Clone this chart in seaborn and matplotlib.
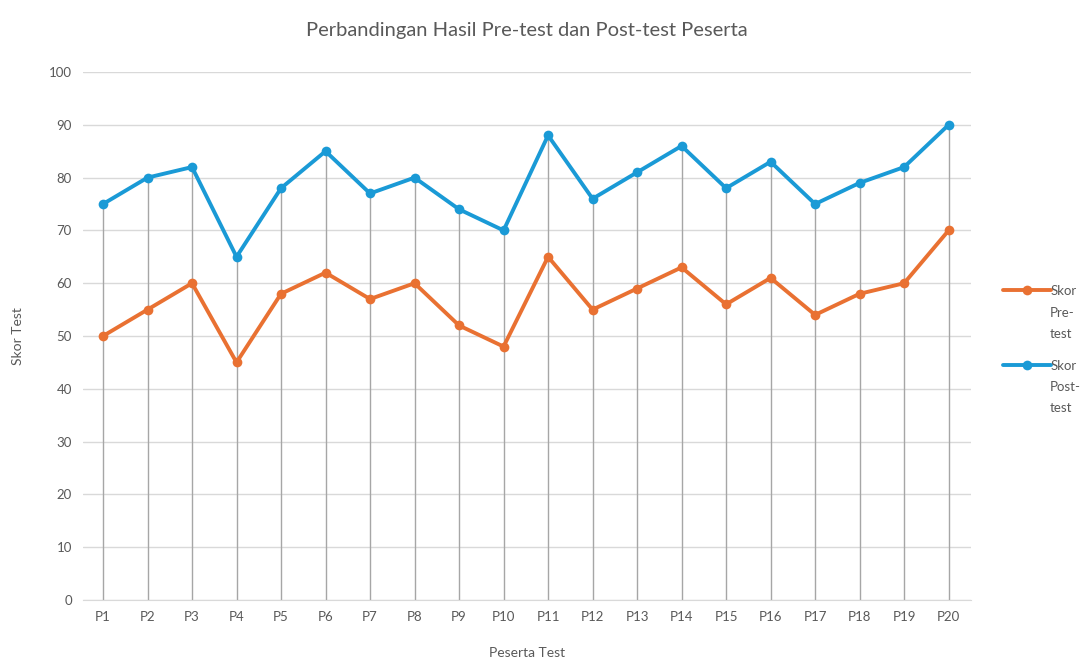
import pandas as pd
import matplotlib.pyplot as plt
import seaborn as sns

# Data
peserta = [f"P{i}" for i in range(1, 21)]
pre_test = [50, 55, 60, 45, 58, 62, 57, 60, 52, 48, 65, 55, 59, 63, 56, 61, 54, 58, 60, 70]
post_test = [75, 80, 82, 65, 78, 85, 77, 80, 74, 70, 88, 76, 81, 86, 78, 83, 75, 79, 82, 90]

series = ["Skor Pre-test", "Skor Post-test"]
# legend labels are wrapped like in the original
wrapped = [("Skor", "Pre-\ntest"), ("Skor", "Post-\ntest")]
colors = ["#E97132", "#1A9AD6"]
text_gray = "#595959"

df = pd.DataFrame({"Peserta": peserta, series[0]: pre_test, series[1]: post_test})
long_df = df.melt(id_vars="Peserta", var_name="Seri", value_name="Skor")

sns.set_style("white")
plt.rcParams['font.family'] = ['Lato', 'DejaVu Sans']

W, H = 1086, 659
fig = plt.figure(figsize=(W / 100, H / 100), dpi=100)
ax = fig.add_axes([0.0764, 0.0895, 0.8176, 0.8012])

# gridlines
ax.set_ylim(0, 100)
ax.set_yticks(range(0, 101, 10))
ax.yaxis.grid(True, color="#D9D9D9", linewidth=1)
ax.set_axisbelow(True)

# drop lines from the highest point down to the axis
xs = range(len(peserta))
ax.vlines(xs, 0, [max(a, b) for a, b in zip(pre_test, post_test)],
          color="#A6A6A6", linewidth=1, zorder=1)

sns.lineplot(data=long_df, x="Peserta", y="Skor", hue="Seri", palette=colors,
             marker="o", markersize=7, linewidth=2.8, markeredgewidth=0,
             sort=False, ax=ax, zorder=3)

ax.set_xlim(-0.45, 19.5)
for s in ["top", "right", "left"]:
    ax.spines[s].set_visible(False)
ax.spines["bottom"].set_color("#D9D9D9")
ax.tick_params(axis="both", length=0, labelsize=9.5, colors=text_gray, pad=8)

ax.set_title("Perbandingan Hasil Pre-test dan Post-test Peserta",
             fontsize=14.5, color=text_gray, pad=26)
ax.set_xlabel("Peserta Test", fontsize=10, color=text_gray, labelpad=17)
ax.set_ylabel("Skor Test", fontsize=10, color=text_gray, labelpad=18)

# legend: first word next to the line, rest of the label wrapped below
handles, _ = ax.get_legend_handles_labels()
ax.get_legend().remove()
leg = fig.legend(handles, [w[0] for w in wrapped], loc="upper left",
                 bbox_to_anchor=(1003 / W, 1 - 285 / H), frameon=False,
                 fontsize=9.5, handlelength=3.6, handletextpad=0.0,
                 borderpad=0, borderaxespad=0, labelspacing=4.75)
for t in leg.get_texts():
    t.set_color(text_gray)

for (first, rest), y_px in zip(wrapped, [307, 381]):
    fig.text(1050 / W, 1 - y_px / H, rest, ha="left", va="top",
             fontsize=9.5, color=text_gray, linespacing=1.93)

fig.savefig("out.png", dpi=100)
